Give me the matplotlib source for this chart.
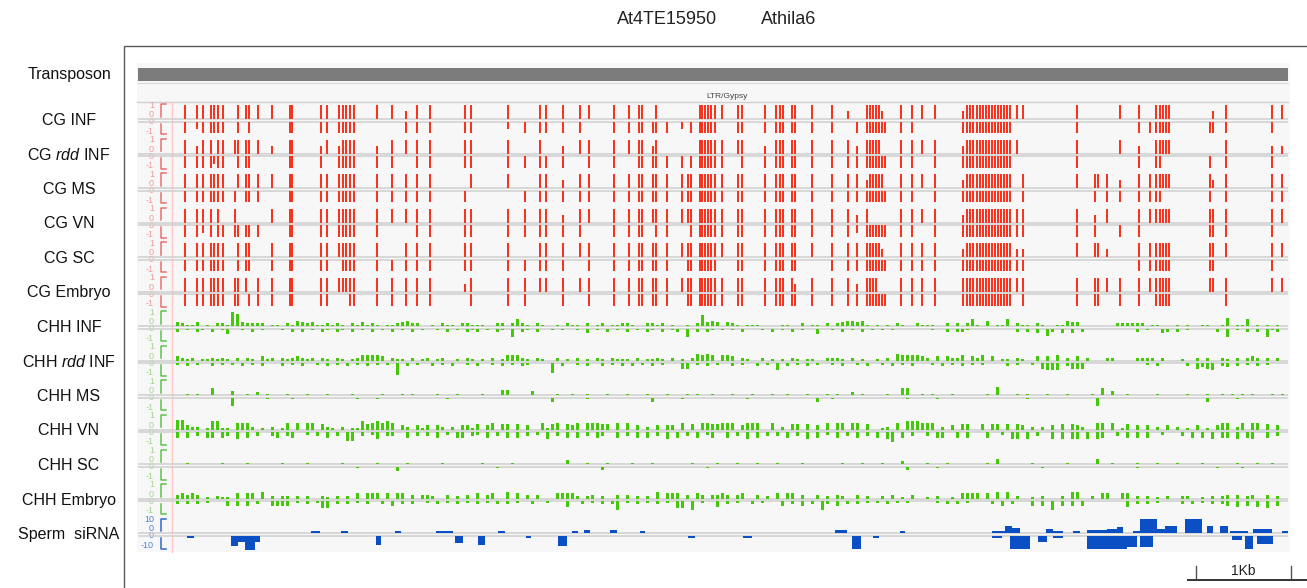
import numpy as np
import matplotlib.pyplot as plt

plt.rcParams['font.family'] = ['Liberation Sans', 'DejaVu Sans']
plt.rcParams['mathtext.fontset'] = 'custom'
plt.rcParams['mathtext.rm'] = 'Liberation Sans'
plt.rcParams['mathtext.it'] = 'Liberation Sans:italic'

# ---------------------------------------------------------------- data
te_id = 'At4TE15950'
te_family = 'Athila6'
te_superfamily = 'LTR/Gypsy'
te_length_bp = 12075

track_labels = ['CG INF', 'CG $\\mathit{rdd}$ INF', 'CG MS', 'CG VN', 'CG SC', 'CG Embryo',
                'CHH INF', 'CHH $\\mathit{rdd}$ INF', 'CHH MS', 'CHH VN', 'CHH SC', 'CHH Embryo',
                'Sperm  siRNA']

# CG sites (bp from element start), split in three stretches
cg_sites_5p = [494, 620, 683, 767, 798, 840, 893, 1019, 1050, 1134,
               1166, 1260, 1407, 1596, 1617, 1922, 1985, 2111, 2153, 2184,
               2226, 2268, 2510, 2667, 2814, 2930, 3066, 3434, 3497, 3885,
               4064, 4221, 4284]
cg_sites_mid = [4463, 4641, 4736, 4998, 5156, 5261, 5292, 5408, 5439, 5555,
                5712, 5775, 5807, 5901, 5922, 5954, 5985, 6017, 6059, 6132,
                6300, 6342, 6584, 6699, 6741, 6773, 6867, 6899, 7077, 7287,
                7455, 7550, 7655, 7686, 7718, 7749, 7781, 7812, 7844, 8012,
                8127, 8232]
cg_sites_3p = [8369, 8663, 8705, 8736, 8768, 8810, 8841, 8873, 8904, 8936,
               8967, 8999, 9030, 9062, 9093, 9125, 9156, 9230, 9293, 9860,
               10049, 10080, 10175, 10311, 10511, 10626, 10689, 10731, 10763, 10794,
               10826, 11256, 11288, 11424, 11907, 12012]

# per-site methylation, '1' = full, 'h' = partial, '.' = none
cg_top = [
    ("1111111.11 1111111111 1111h11111 .11",
     "1111111.1. ...1111111 1111111111 h.11111h.1 11",
     "1h11111111 1111111111 ...11.1111 1.h111"),
    ("1h11.11111 11h11h1h11 11h1111111 .1.",
     "h111111h1. ...1111111 11h1111111 1h11111..1 11",
     "1h11111111 11111111.1 ...1h.1111 1..1hh"),
    ("1111111.11 1111111111 1111111.11 .11",
     "h111111111 1111111111 1111111111 11h11111.1 11",
     "1h11111111 1111111.11 111h111111 11h111"),
    ("1111.1.1.. ..11111111 1111111111 111",
     "h111111111 1111111111 1111111111 1h1......1 11",
     "1h11111111 1111111111 h.1.111111 111111"),
    ("1111111.11 1.11111111 111.111111 .11",
     "1111111111 1111111111 1111111111 1111111h.1 11",
     "1h11111111 1111111hh1 11h.111111 111111"),
    ("1111111111 .111111111 1111111h11 111",
     "1111111111 1111111111 1111111h11 1h1111...1 11",
     "1111111111 1111111111 1111111111 111111"),
]
cg_bottom = [
    ("1h11111.1. 1..1111111 11..11111h 111",
     "11.1111111 h.1111111. 1111111111 .111111111 1.",
     ".111111111 1111111..1 ....111111 11111."),
    ("1111h11.11 1..111.111 1111.11111 111",
     "1.11.11111 1.11111111 .111111111 1111111111 1.",
     "1111111111 1111111..1 ....1.11.. .1.11."),
    ("11111111.1 11.1111111 11111111.. 111",
     "1111111111 1111111111 1111111111 1111111111 1.",
     "1111111111 1111111.1. 1.111111.. .1.111"),
    ("11h1.11111 11.1111111 111..11111 111",
     "11.1111.11 ..11111111 1111111111 1h11111111 1.",
     "1111111111 1111111111 1..11..... .1111."),
    ("1111111.11 1.11111.11 1111111111 111",
     "1.11111111 .11111111. 11111111.1 1111111111 11",
     "1111111111 111111111. ....111111 111.1."),
    ("111111111. 1111111... 1111111.11 1..",
     "1.11111111 .111111111 1111111111 1111111111 11",
     "1111111111 1111111.11 11.11.1111 1..1.."),
]

# CHH level per 52.5 bp window from 390 bp, in tenths ('a' = 1.0)
chh_start_bp = 390
chh_window_bp = 52.5
chh_windows = 222
chh_top = [
    "32113.1.22 1a932222.1 1.21432311 2121.21312 1.1123422. .1.211.221 11..22.252 1.21..1.21 1.2.12.112 21..2212.1 ..1.28343. 321.111... .11..2.11. 2.2344341. 1.1.21..21 11..2.2.25 1.4.115.21 1.21..1143 3.......22 2222.11... 1.1..11..1 6.115.1.1. 1.",
    "3212.11212 1.2.21.312 .2123212.2 1.21.12444 43.211.2.1 2.12..1.21 .1.2.14442 1.21..2.1. 2.1.21.211 1.2.1121.2 .1.25454.4 43.21..2.1 .1.21.11.. 2221.2.1.. 1.2.544443 2.3.3224.3 24.3.11.21 ..3.3.4.2. 3.2...22.. ..2222.2.. .1..2.2..2 1.2.232.2. 2.",
    "..1.1..5.. .3..1.2.1. ..1...1... 1....1.... .1...1.1.. ..1...1... .1...44... .3....1..1 ..1...1... 1...1...1. ..1.1..1.. .1...1...1 ..1...1... 1.1..2.1.. ..1..55..1 .1...1.... ..1.6...1. 1...1...1. ...1.5.3.. 1.....1... ..1...1..1 .1.1.1...1 .1",
    "77322.1661 1.5552.1.2 .15.5.55.4 21.2.11645 6565.32.31 3.32.2.331 4.35.44.4. 3..5145.43 5.55544.5. 5.3.2.3.33 .5.4.55445 55.3555..5 .2.44.4.3. 5.55.55.4. .12.5.6665 55.2.3.44. .4.44.4.43 .2.2.3.4.4 32..55.5.1 4.3.3.2.3. 2.1.3.1.35 5.25.55.4. 3.",
    "..1......1 ....1..... .1....1... ...1...... 1.....1... ...1...... .1.....1.. ........3. ..1...1... .1...1.... ...1....1. ..1...1... 1....1.... ...1...1.. .1...2.... 1...1..... ..1.4..... .1......1. ....4..1.. ..1...1... 1....1.... ..1...1..1 ..",
    "34343.1.21 1.4.44.5.2 .22.2.2..2 1.2.2.4.44 4.4.44.3.3 32..3.2.3. 4.34..5.4. 3.3...4444 2.23.2..3. 3.2.2.5.44 4.3.43.334 3.34..3.2. 4.44.3..3. 2.32..3.2. .2.3.1.3.. 1.2..1.444 4.4.5.5.2. .1.2...2.5 5..2.44..4 4.2.2.1.2. .22..1.2.2 3.3.23..3. 2.",
]
chh_bottom = [
    "2.1.21.2.1 4..1.2.1.. .1.2.2.1.2 1.21.2.1.2 .1.2.1.2.1 ..1.2.1.21 2.1.21.6.2 1.2..1.1.. 1.3.1.2.1. 2.1.21.2.1 2.6.2.21.1 .1.2...1.2 .1.2.1..4. .1.2.1.2.1 .1.1...... .1..2.221. ........2. 2.3.52.3.3 .2........ ..2.1..32. 2.1.....2. 6.1.2.2.61 2.",
    "1.2.1..2.1 .1.2.1.2.. .2.1.2..1. 2.1.2.1.2. 1.1.a.2.1. .2.1.2..1. 2..1.2.1.2 1....7.2.. 1.2..2.1.2 .2.1.2.1.. .44.1.2.1. .2.1..2.1. 5.2.1.2.1. .1.2..1.2. .1.2.1.2.. .1.2.1.2.1 .1....2.1. .1.4555.24 44........ ....1.2... ..2.4345.2 3.2.1.2.1. ..",
    ".......... .6......1. ...1...... ......1... 1......... ....1..... .......... .....3.... ..1....... .....3.... .1........ ....1..... ........3. .1........ ......1... ..1....... .......... 1......... ....6..... .......... ......3... ..1....... ..",
    "4.4.3.44.4 3.5.4.3..3 4.34..2.3. 4.3.66.3.2 5.33..4.3. 3.4.2.44.3 2.4.3.4.4. 3.2.5.3.4. 4.3.43..4. 3.4.4.3.5. 4.3.4.24.. 4.3.5.4.3. 3.4.3.5.4. 2.4.3.4.3. 4.57.4.3.. 3.44..4.4. ..4..2.55. 5.3..5.5.5 5.5.54..3. 4.4.4..2.. .3.4.4.5.4 4.5.45..4. 3.",
    ".......... .......... .......... ......1... ....3..... .......... ....1..... .......... .....2.... .......... ......1... .......... .......... .......... ......2... ..1....... .......... ...1...... .......... ..1....... ........1. ...1...... ..",
    "2.2.2.1... 3.3.3.2..3 333.1.2.15 5.2.2.1.2. .2.3.2.2.. 1.2.1.2.1. 2.1.2.2.1. .2..1...4. .2.1.2.26. 1.2.1.2.1. 55.6.1..4. 2.1..2.1.. .3.2.3.2.6 2.3.2.2.1. 1.2.1.1... ..1.2.2.1. ...2.3.2.. .3.3.6.3.3 .3........ 4.2.2.1... .2.2.1.2.2 3.4.3.4.5. 3.",
]

# sperm 24-nt siRNA coverage blocks (start, end, reads)
sirna_plus_start = [1817, 2132, 2699, 3129, 3780, 4557, 4683, 4956, 5271, 7319,
                    8001, 8967, 9104, 9177, 9534, 9608, 9818, 9965, 10175, 10280,
                    10448, 10521, 10700, 10784, 10994, 11225, 11361, 11466, 11708, 12012]
sirna_plus_end = [1911, 2205, 2762, 3308, 3854, 4620, 4746, 5030, 5324, 7445,
                  8054, 9104, 9177, 9261, 9608, 9713, 9891, 10175, 10280, 10343,
                  10521, 10700, 10784, 10910, 11172, 11288, 11445, 11655, 11907, 12075]
sirna_plus_val = [1.5, 1.5, 1.5, 1.5, 1.5, 1.5, 2.5, 2.5, 1.5, 2,
                  1.5, 1.5, 5, 4, 3, 1.5, 1.5, 2, 3, 4.5,
                  1.5, 10, 3, 5, 10, 5, 5, 1.5, 3, 1.5]
sirna_minus_start = [515, 977, 1050, 1124, 1229, 2499, 3329, 3570, 4074, 4410,
                     5775, 6353, 7497, 7718, 8967, 9156, 9450, 9608, 9965, 10385,
                     10521, 11487, 11624, 11750]
sirna_minus_end = [588, 1050, 1124, 1229, 1281, 2552, 3413, 3644, 4127, 4505,
                   5849, 6447, 7592, 7781, 9072, 9366, 9545, 9713, 10385, 10490,
                   10658, 11592, 11708, 11918]
sirna_minus_val = [1.5, 7.5, 4.5, 10, 4.5, 6.5, 5, 6.5, 1.5, 7.5,
                   1.5, 1.5, 9.5, 1.5, 1.5, 9.5, 4.5, 1.5, 9.5, 8,
                   8, 3, 9.5, 6]

# ---------------------------------------------------------------- styles
W, H = 1307, 588
PX_L, PX_R = 138, 1288
CG_RED = '#f8341f'
CHH_GREEN = '#46c80a'
SI_BLUE = '#0b4fc4'
LINE_GREY = '#cfcfcf'
tick_colors = ['#f09a9a'] * 6 + ['#9ed68f'] * 6 + ['#4f80d4']
bracket_colors = ['#ee6f6f'] * 6 + ['#5fc24c'] * 6 + ['#2f68d0']


def cg_levels(code, n):
    code = code.replace(' ', '').ljust(n, '.')[:n]
    return np.array([{'1': 1.0, 'h': 0.55}.get(c, 0.0) for c in code])


def chh_levels(code, n):
    code = code.replace(' ', '').ljust(n, '.')[:n]
    return np.array([1.0 if c == 'a' else (int(c) / 10 if c.isdigit() else 0.0)
                     for c in code])


fig = plt.figure(figsize=(W / 100, H / 100), dpi=100)
bg = fig.add_axes([0, 0, 1, 1])
bg.set_xlim(0, W)
bg.set_ylim(H, 0)
bg.axis('off')

# frame, panel and feature track
bg.plot([123.5, 123.5, W], [H, 45.5, 45.5], color='#5a5a5a', lw=1.0)
bg.add_patch(plt.Rectangle((137, 63), 1153, 489, color='#f7f7f7', lw=0))
bg.add_patch(plt.Rectangle((PX_L, 68), PX_R - PX_L, 13, color='#7b7b7b', lw=0))
bg.plot([PX_L, PX_R], [82.5, 82.5], color='#d9d9d9', lw=0.8)
bg.plot([137, PX_R], [101.5, 101.5], color=LINE_GREY, lw=1.0)
bg.text(727, 96, te_superfamily, ha='center', va='center', fontsize=6, color='#444444')
bg.plot([172, 172], [102, 552], color='#ffc9c9', lw=1.0)

bg.text(667, 20, te_id, ha='center', va='center', fontsize=13, color='#222222')
bg.text(789, 20, te_family, ha='center', va='center', fontsize=13, color='#222222')
bg.text(69, 74, 'Transposon', ha='center', va='center', fontsize=11.5, color='#111111')

# one axes per data track
centers = [120.3 + 34.52 * k for k in range(13)]
gap = 0.093
cg_sets = [cg_sites_5p, cg_sites_mid, cg_sites_3p]
chh_pos = chh_start_bp + chh_window_bp * (np.arange(chh_windows) + 0.5)

for k, zc in enumerate(centers):
    is_si = k == 12
    top_px = zc - 16.8
    bot_px = zc + (17.2 if is_si else 12.8)
    ax = fig.add_axes([PX_L / W, 1 - bot_px / H, (PX_R - PX_L) / W, (bot_px - top_px) / H])
    ax.patch.set_alpha(0)
    ax.axis('off')
    ax.set_xlim(0, te_length_bp)
    unit = 10.0 if is_si else 1.0
    g = gap * unit
    ax.set_ylim(-(g + (bot_px - zc - 1.3) / 14 * unit), g + 15.5 / 14 * unit)
    ax.axhline(g, color=LINE_GREY, lw=1.1, zorder=1)
    ax.axhline(-g, color=LINE_GREY, lw=1.1, zorder=1)

    if k < 6:
        for sites, up, dn in zip(cg_sets, cg_top[k], cg_bottom[k]):
            x = np.array(sites)
            u = cg_levels(up, len(x))
            d = cg_levels(dn, len(x))
            ax.bar(x[u > 0], u[u > 0], width=30, bottom=g, color=CG_RED, lw=0, zorder=2)
            ax.bar(x[d > 0], -d[d > 0], width=30, bottom=-g, color=CG_RED, lw=0, zorder=2)
    elif k < 12:
        u = chh_levels(chh_top[k - 6], chh_windows)
        d = chh_levels(chh_bottom[k - 6], chh_windows)
        ax.bar(chh_pos[u > 0], u[u > 0], width=28, bottom=g, color=CHH_GREEN, lw=0, zorder=2)
        ax.bar(chh_pos[d > 0], -d[d > 0], width=28, bottom=-g, color=CHH_GREEN, lw=0, zorder=2)
    else:
        s = np.array(sirna_plus_start)
        ax.bar(s, sirna_plus_val, width=np.array(sirna_plus_end) - s, align='edge',
               bottom=g, color=SI_BLUE, lw=0, zorder=2)
        s = np.array(sirna_minus_start)
        ax.bar(s, -np.array(sirna_minus_val), width=np.array(sirna_minus_end) - s, align='edge',
               bottom=-g, color=SI_BLUE, lw=0, zorder=2)

    # row label, scale numbers and brackets
    bg.text(69, zc, track_labels[k], ha='center', va='center', fontsize=11.5, color='#111111')
    hi = '10' if is_si else '1'
    lo = '-10' if is_si else '-1'
    for txt, dy in [(hi, -15.3), ('0', -5.8), ('0', 1.4), (lo, 10.8)]:
        bg.text(154, zc + dy, txt, ha='right', va='center', fontsize=6.5,
                color=tick_colors[k])
    bc = bracket_colors[k]
    bg.plot([166, 161, 161], [zc - 16, zc - 16, zc - 3.5], color=bc, lw=1.1)
    bg.plot([161, 161, 166], [zc + 3.5, zc + 14, zc + 14], color=bc, lw=1.1)

# 1 kb scale bar
px_per_kb = 1000 * (PX_R - PX_L) / te_length_bp
sb_left = 1196
bg.plot([1188, W], [580, 580], color='#333333', lw=1.4)
bg.plot([sb_left, sb_left], [566, 578], color='#555555', lw=1.0)
bg.plot([sb_left + px_per_kb, sb_left + px_per_kb], [566, 578], color='#555555', lw=1.0)
bg.text(sb_left + px_per_kb / 2, 571, '1Kb', ha='center', va='center', fontsize=10,
        color='#222222')

fig.savefig('out.png', dpi=100)
